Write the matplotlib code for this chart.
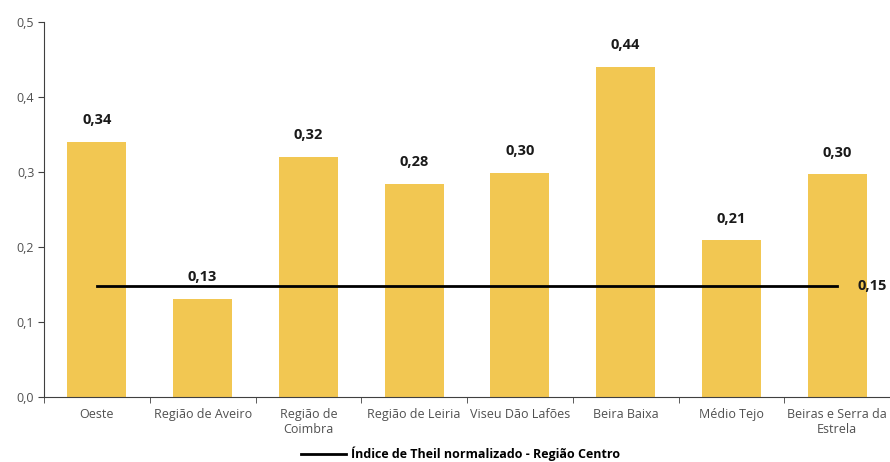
import matplotlib
matplotlib.use("Agg")
import matplotlib.pyplot as plt
import numpy as np

categories = ["Oeste", "Região de Aveiro", "Região de\nCoimbra", "Região de Leiria",
              "Viseu Dão Lafões", "Beira Baixa", "Médio Tejo", "Beiras e Serra da\nEstrela"]
values = [0.34, 0.131, 0.32, 0.284, 0.299, 0.44, 0.209, 0.297]
value_labels = ["0,34", "0,13", "0,32", "0,28", "0,30", "0,44", "0,21", "0,30"]
centro = [0.148] * len(categories)
centro_label = "0,15"
legend_label = "Índice de Theil normalizado - Região Centro"
yticks = [0.0, 0.1, 0.2, 0.3, 0.4, 0.5]
ytick_labels = ["0,0", "0,1", "0,2", "0,3", "0,4", "0,5"]

plt.rcParams['font.family'] = ['Open Sans', 'DejaVu Sans']

fig = plt.figure(figsize=(8.9, 4.62), dpi=100)
ax = fig.add_axes([44/890, 1-397/462, 1-44/890, (397-22)/462])

x = np.arange(len(categories))
ax.bar(x, values, width=0.56, color="#F2C752", zorder=2)
for xi, v, lab in zip(x, values, value_labels):
    ax.annotate(lab, (xi, v), xytext=(0, 15.5), textcoords="offset points",
                ha="center", va="center", fontsize=10.5, fontweight="bold", color="#1a1a1a")

line, = ax.plot(x, centro, color="black", linewidth=2, zorder=3)
ax.annotate(centro_label, (x[-1], centro[-1]), xytext=(15, 0), textcoords="offset points",
            ha="left", va="center", fontsize=10.5, fontweight="bold", color="#1a1a1a",
            annotation_clip=False)

ax.set_xlim(-0.5, len(categories) - 0.5)
ax.set_ylim(0, 0.5)
ax.set_yticks(yticks)
ax.set_yticklabels(ytick_labels, fontsize=9, color="#505050")
ax.set_xticks(x)
ax.set_xticklabels(categories, fontsize=9, color="#505050")
ax.tick_params(axis="x", length=0, pad=8)
ax.set_xticks(np.arange(len(categories) + 1) - 0.5, minor=True)
ax.tick_params(axis="x", which="minor", length=4, direction="out", color="#404040")
ax.tick_params(axis="y", length=4, direction="out", color="#404040", pad=3)

for s in ["top", "right"]:
    ax.spines[s].set_visible(False)
ax.spines["left"].set_color("#404040")
ax.spines["bottom"].set_color("#404040")

fig.legend([line], [legend_label], loc="center", bbox_to_anchor=(461/890, 1-454/462),
           frameon=False, handlelength=3.6, handletextpad=0.4,
           prop={"family": ["Open Sans", "DejaVu Sans"], "weight": "bold", "size": 9})

fig.savefig("out.png", dpi=100)
